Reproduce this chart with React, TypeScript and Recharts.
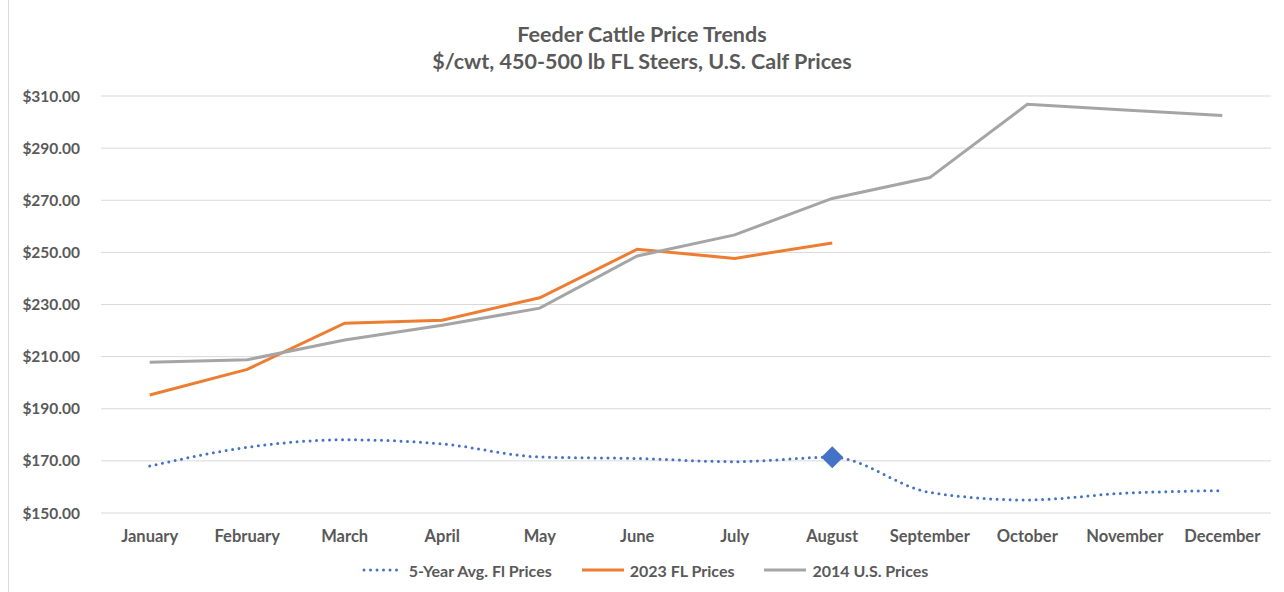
import React from "react";
import { CartesianGrid, Legend, Line, LineChart, XAxis, YAxis } from "recharts";

const months = [
  "January", "February", "March", "April", "May", "June",
  "July", "August", "September", "October", "November", "December",
];
const fiveYearAvg = [168.0, 175.2, 178.1, 176.5, 171.5, 170.9, 169.7, 171.4, 157.9, 155.0, 157.6, 158.6];
const fl2023 = [195.3, 205.1, 222.8, 224.0, 232.6, 251.2, 247.7, 253.6, null, null, null, null];
const us2014 = [207.8, 208.8, 216.4, 222.0, 228.6, 248.6, 256.7, 270.7, 278.7, 306.8, 304.6, 302.5];
const yTicks = [150, 170, 190, 210, 230, 250, 270, 290, 310];

const data = months.map((m, i) => ({
  month: m,
  avg: fiveYearAvg[i],
  fl: fl2023[i],
  us: us2014[i],
}));

const FONT = "Lato, 'Open Sans', sans-serif";
const TEXT = "#595959";
const BLUE = "#4472C4";
const ORANGE = "#ED7D31";
const GRAY = "#A5A5A5";

const legendItems = [
  { label: "5-Year Avg. Fl Prices", color: BLUE, dotted: true },
  { label: "2023 FL Prices", color: ORANGE, dotted: false },
  { label: "2014 U.S. Prices", color: GRAY, dotted: false },
];

function ChartLegend() {
  return (
    <div style={{ display: "flex", justifyContent: "center", height: 30, alignItems: "center", paddingLeft: 18 }}>
      {legendItems.map((it) => (
        <div key={it.label} style={{ display: "flex", alignItems: "center", margin: "0 15px" }}>
          <svg width={42} height={6} style={{ marginRight: 6 }}>
            {it.dotted ? (
              <line x1={3} y1={3} x2={40} y2={3} stroke={it.color} strokeWidth={3} strokeDasharray="0 6.5" strokeLinecap="round" />
            ) : (
              <line x1={0} y1={3} x2={42} y2={3} stroke={it.color} strokeWidth={3} />
            )}
          </svg>
          <span style={{ fontFamily: FONT, fontWeight: 700, fontSize: 16, color: TEXT }}>{it.label}</span>
        </div>
      ))}
    </div>
  );
}

function AvgDot(props: any) {
  const { cx, cy, index } = props;
  if (index !== 7) return <g key={`d${index}`} />;
  const r = 11;
  return (
    <path
      key={`d${index}`}
      d={`M${cx},${cy - r} L${cx + r},${cy} L${cx},${cy + r} L${cx - r},${cy} Z`}
      fill={BLUE}
    />
  );
}

export default function App() {
  return (
    <div style={{ position: "absolute", left: 0, top: 0, width: 1284, height: 592, background: "#fff" }}>
      <div style={{ position: "absolute", left: 8, top: 0, width: 1, height: 592, background: "#D9D9D9" }} />
      <div
        style={{
          position: "absolute", left: 0, top: 21, width: 1284, textAlign: "center",
          fontFamily: FONT, fontWeight: 700, fontSize: 21.5, color: TEXT, lineHeight: "27px",
        }}
      >
        <div>Feeder Cattle Price Trends</div>
        <div>$/cwt, 450-500 lb FL Steers, U.S. Calf Prices</div>
      </div>
      <LineChart width={1284} height={592} data={data} margin={{ top: 96, right: 13, left: 0, bottom: 7 }}>
        <CartesianGrid vertical={false} stroke="#D9D9D9" strokeWidth={1} />
        <XAxis
          dataKey="month"
          axisLine={false}
          tickLine={false}
          tickSize={0}
          tickMargin={17}
          height={42}
          padding={{ left: 48.7, right: 48.7 }}
          interval={0}
          tick={{ fill: TEXT, fontFamily: FONT, fontWeight: 700, fontSize: 16.5 }}
        />
        <YAxis
          domain={[150, 310]}
          ticks={yTicks}
          width={101}
          axisLine={false}
          tickLine={false}
          tickSize={0}
          tickMargin={21}
          tickFormatter={(v: number) => `$${v.toFixed(2)}`}
          tick={{ fill: TEXT, fontFamily: FONT, fontWeight: 700, fontSize: 15.5 }}
        />
        <Legend verticalAlign="bottom" content={() => <ChartLegend />} />
        <Line
          dataKey="avg"
          type="monotone"
          stroke={BLUE}
          strokeWidth={3}
          strokeDasharray="0 6.5"
          strokeLinecap="round"
          dot={AvgDot}
          activeDot={false}
          isAnimationActive={false}
        />
        <Line dataKey="fl" type="linear" stroke={ORANGE} strokeWidth={3} dot={false} isAnimationActive={false} />
        <Line dataKey="us" type="linear" stroke={GRAY} strokeWidth={3} dot={false} isAnimationActive={false} />
      </LineChart>
    </div>
  );
}
